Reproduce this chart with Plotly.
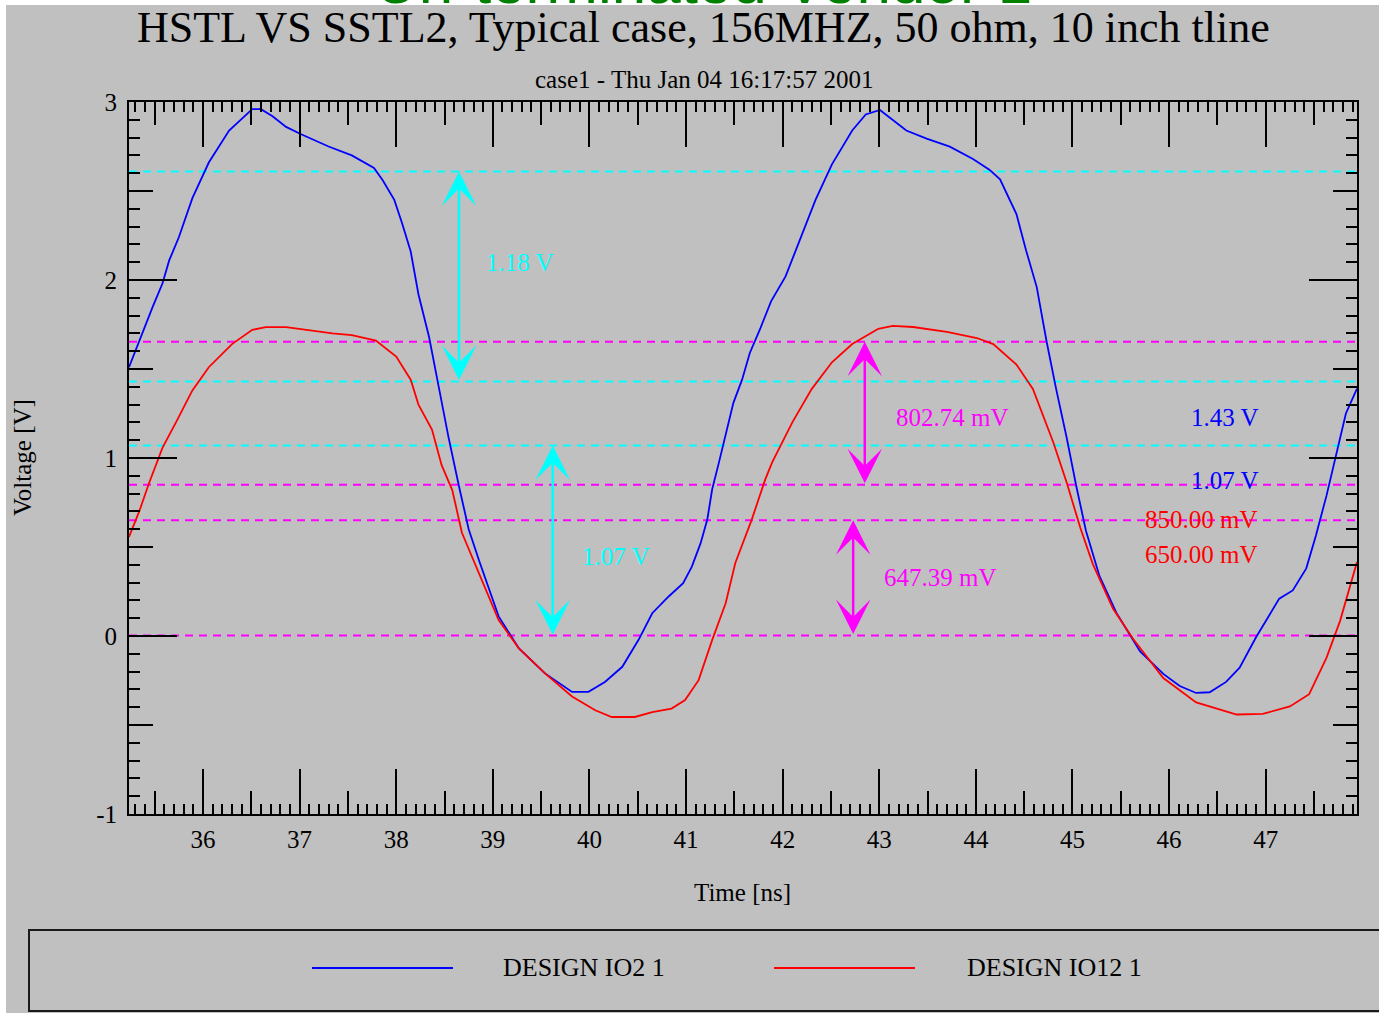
import plotly.graph_objects as go

# ---------------- data ----------------
blue_t = [35.234, 35.34, 35.48, 35.58, 35.65, 35.75, 35.89, 36.06, 36.27, 36.51, 36.60, 36.72,
          36.86, 37.01, 37.30, 37.54, 37.77, 37.86, 37.98, 38.06, 38.15, 38.23, 38.34, 38.44,
          38.54, 38.65, 38.75, 38.86, 39.06, 39.27, 39.54, 39.82, 39.99, 40.16, 40.34, 40.51,
          40.65, 40.82, 40.97, 41.06, 41.15, 41.22, 41.27, 41.34, 41.41, 41.49, 41.58, 41.66,
          41.77, 41.88, 42.03, 42.20, 42.34, 42.51, 42.72, 42.86, 43.007, 43.28, 43.49, 43.73,
          43.97, 44.14, 44.25, 44.42, 44.52, 44.63, 44.73, 44.83, 44.94, 45.04, 45.14, 45.28,
          45.455, 45.70, 45.94, 46.11, 46.28, 46.42, 46.59, 46.73, 46.90, 47.14, 47.28, 47.42,
          47.52, 47.63, 47.73, 47.83, 47.945]
blue_v = [1.51, 1.66, 1.85, 1.98, 2.11, 2.24, 2.46, 2.66, 2.84, 2.96, 2.96, 2.92,
          2.86, 2.82, 2.75, 2.70, 2.63, 2.56, 2.45, 2.32, 2.16, 1.92, 1.68, 1.40,
          1.12, 0.84, 0.60, 0.42, 0.11, -0.07, -0.21, -0.314, -0.314, -0.258, -0.173, -0.02,
          0.128, 0.222, 0.297, 0.39, 0.52, 0.654, 0.823, 0.974, 1.124, 1.31, 1.44, 1.59,
          1.73, 1.88, 2.02, 2.25, 2.45, 2.65, 2.84, 2.93, 2.955, 2.84, 2.794, 2.749,
          2.68, 2.62, 2.566, 2.37, 2.166, 1.96, 1.66, 1.39, 1.114, 0.84, 0.59, 0.336,
          0.13, -0.087, -0.213, -0.281, -0.32, -0.316, -0.258, -0.178, -0.007, 0.21, 0.256, 0.38,
          0.565, 0.79, 1.02, 1.25, 1.39]

red_t = [35.234, 35.34, 35.44, 35.58, 35.72, 35.89, 36.06, 36.30, 36.51, 36.65, 36.86, 37.06,
         37.34, 37.54, 37.79, 38.00, 38.15, 38.23, 38.37, 38.47, 38.58, 38.68, 38.86, 39.06,
         39.27, 39.54, 39.82, 40.06, 40.23, 40.47, 40.65, 40.85, 40.99, 41.13, 41.27, 41.41,
         41.51, 41.68, 41.82, 41.89, 42.10, 42.30, 42.51, 42.72, 42.99, 43.14, 43.35, 43.70,
         44.01, 44.18, 44.42, 44.59, 44.80, 44.94, 45.08, 45.21, 45.42, 45.63, 45.94, 46.28,
         46.70, 46.97, 47.25, 47.45, 47.63, 47.77, 47.945]
red_v = [0.556, 0.70, 0.857, 1.057, 1.20, 1.38, 1.51, 1.64, 1.72, 1.735, 1.735, 1.72,
         1.70, 1.69, 1.66, 1.57, 1.44, 1.30, 1.16, 0.96, 0.82, 0.58, 0.35, 0.09,
         -0.07, -0.21, -0.34, -0.417, -0.455, -0.455, -0.427, -0.408, -0.36, -0.248, -0.023, 0.184,
         0.41, 0.654, 0.88, 0.974, 1.20, 1.387, 1.538, 1.64, 1.726, 1.742, 1.736, 1.708,
         1.674, 1.64, 1.525, 1.388, 1.09, 0.862, 0.61, 0.405, 0.153, -0.018, -0.236, -0.373,
         -0.441, -0.437, -0.396, -0.327, -0.121, 0.085, 0.416]

series_names = ["DESIGN IO2 1", "DESIGN IO12 1"]

blue_levels = [1.43, 1.07]          # V
blue_swings = [1.18, 1.07]          # V
red_levels = [0.85, 0.65]           # V
red_swings = [0.80274, 0.64739]     # V

x_ticks = list(range(36, 48))
x_half_ticks = [v + 0.5 for v in range(35, 48)]
y_ticks = [-1, 0, 1, 2, 3]
y_half_ticks = [-0.5, 0.5, 1.5, 2.5]
x_range = [35.234, 47.945]
y_range = [-1, 3]

title_text = "HSTL VS SSTL2, Typical case, 156MHZ, 50 ohm, 10 inch tline"
subtitle_text = "case1 - Thu Jan 04 16:17:57 2001"
top_text = "Un-terminated Vendor 1"

# ---------------- styling ----------------
W, H = 1379, 1013
L, R, T, B = 129, 1357, 102, 814
BG = "#C0C0C0"
BLUE, RED, CYAN, MAG = "#0000FF", "#FF0000", "#00FFFF", "#FF00FF"
SERIF = "Liberation Serif, Times New Roman, serif"


def px(x):
    return (x - L) / (R - L)


def py(y):
    return (B - y) / (B - T)


fig = go.Figure()
fig.add_trace(go.Scatter(x=blue_t, y=blue_v, mode="lines", name=series_names[0],
                         line=dict(color=BLUE, width=1.8), showlegend=False))
fig.add_trace(go.Scatter(x=red_t, y=red_v, mode="lines", name=series_names[1],
                         line=dict(color=RED, width=1.8), showlegend=False))
# helper traces so the secondary tick axes are drawn
fig.add_trace(go.Scatter(x=[], y=[], xaxis="x2", yaxis="y", showlegend=False, hoverinfo="skip"))
fig.add_trace(go.Scatter(x=[], y=[], xaxis="x", yaxis="y2", showlegend=False, hoverinfo="skip"))

shapes = []
# white page edges
shapes.append(dict(type="rect", xref="paper", yref="paper", x0=px(0), x1=px(W), y0=py(5), y1=py(0),
                   fillcolor="white", line=dict(width=0), layer="below"))
shapes.append(dict(type="rect", xref="paper", yref="paper", x0=px(0), x1=px(6), y0=py(H), y1=py(0),
                   fillcolor="white", line=dict(width=0), layer="below"))

# dashed reference levels
cyan_lines = [blue_levels[0] + blue_swings[0], blue_levels[0], blue_levels[1], blue_levels[1] - blue_swings[1]]
mag_lines = [red_levels[0] + red_swings[0], red_levels[0], red_levels[1], red_levels[1] - red_swings[1]]
for lv in cyan_lines[:3]:  # the lowest cyan level is hidden under the magenta zero line
    shapes.append(dict(type="line", xref="paper", yref="y", x0=0, x1=1, y0=lv, y1=lv,
                       line=dict(color=CYAN, width=2, dash="8px,6px"), layer="below"))
for lv in mag_lines:
    shapes.append(dict(type="line", xref="paper", yref="y", x0=0, x1=1, y0=lv, y1=lv,
                       line=dict(color=MAG, width=2, dash="8px,6px"), layer="below"))

# legend box
shapes.append(dict(type="rect", xref="paper", yref="paper", x0=px(29), x1=px(W + 10), y0=py(1011), y1=py(930),
                   line=dict(color="#1a1a1a", width=2), fillcolor=BG))
shapes.append(dict(type="line", xref="paper", yref="paper", x0=px(312), x1=px(453), y0=py(968), y1=py(968),
                   line=dict(color=BLUE, width=2)))
shapes.append(dict(type="line", xref="paper", yref="paper", x0=px(774), x1=px(915), y0=py(968), y1=py(968),
                   line=dict(color=RED, width=2)))

annotations = []


def arrow(t, v_top, v_bot, color):
    annotations.append(dict(x=t, y=v_top, ax=t, ay=v_bot, xref="x", yref="y", axref="x", ayref="y",
                            text="", showarrow=True, arrowside="end+start",
                            arrowhead=3, startarrowhead=3, arrowsize=2.3, startarrowsize=2.3,
                            arrowwidth=2.5, arrowcolor=color, standoff=0, startstandoff=0))


def label(t, v, text, color):
    annotations.append(dict(x=t, y=v, xref="x", yref="y", text=text, showarrow=False,
                            xanchor="center", yanchor="middle",
                            font=dict(family=SERIF, size=25, color=color)))


def page_text(x, y, text, size, color="black", xanchor="center", yanchor="middle", family=SERIF, angle=0):
    annotations.append(dict(x=px(x), y=py(y), xref="paper", yref="paper", text=text, showarrow=False,
                            xanchor=xanchor, yanchor=yanchor, textangle=angle,
                            font=dict(family=family, size=size, color=color)))


arrow(38.65, cyan_lines[0], cyan_lines[1], CYAN)
label(39.28, 2.10, f"{blue_swings[0]:.2f} V", CYAN)
arrow(39.62, cyan_lines[2], cyan_lines[3], CYAN)
label(40.27, 0.444, f"{blue_swings[1]:.2f} V", CYAN)
arrow(42.85, mag_lines[0], mag_lines[1], MAG)
label(43.76, 1.225, f"{red_swings[0] * 1000:.2f} mV", MAG)
arrow(42.73, mag_lines[2], mag_lines[3], MAG)
label(43.63, 0.326, f"{red_swings[1] * 1000:.2f} mV", MAG)

label(46.58, 1.23, f"{blue_levels[0]:.2f} V", BLUE)
label(46.58, 0.876, f"{blue_levels[1]:.2f} V", BLUE)
label(46.34, 0.657, f"{red_levels[0] * 1000:.2f} mV", RED)
label(46.34, 0.46, f"{red_levels[1] * 1000:.2f} mV", RED)

# titles and axis titles
page_text(703, 28, title_text, 44)
page_text(704, 79, subtitle_text, 25)
page_text(703, 18, top_text, 62, color="#008000", yanchor="bottom",
          family="Liberation Sans, Arial, sans-serif")
page_text(742, 892, "Time [ns]", 25)
page_text(22, 458, "Voltage [V]", 25, angle=-90)
# legend texts
page_text(501, 968, series_names[0], 26, xanchor="left")
page_text(965, 968, series_names[1], 26, xanchor="left")

tickfont = dict(family=SERIF, size=25, color="black")

fig.update_layout(
    width=W, height=H,
    margin=dict(l=L, r=W - R, t=T, b=H - B, pad=0),
    paper_bgcolor=BG, plot_bgcolor=BG,
    showlegend=False,
    shapes=shapes, annotations=annotations,
    xaxis=dict(range=x_range, tickmode="array", tickvals=x_ticks, ticktext=[str(v) for v in x_ticks],
               ticks="inside", ticklen=45, tickwidth=2, tickcolor="black",
               showline=True, linecolor="black", linewidth=2, mirror="ticks",
               showgrid=False, zeroline=False, tickfont=tickfont, ticklabelstandoff=2,
               minor=dict(dtick=0.1, tick0=0, ticks="inside", ticklen=10, tickwidth=1.5,
                          tickcolor="black", showgrid=False)),
    xaxis2=dict(range=x_range, overlaying="x", anchor="y", side="bottom", tickmode="array",
                tickvals=x_half_ticks, ticks="inside", ticklen=23, tickwidth=2, tickcolor="black",
                showticklabels=False, showline=False, mirror="ticks", showgrid=False, zeroline=False),
    yaxis=dict(range=y_range, tickmode="array", tickvals=y_ticks, ticktext=[str(v) for v in y_ticks],
               ticks="inside", ticklen=48, tickwidth=2, tickcolor="black",
               showline=True, linecolor="black", linewidth=2, mirror="ticks",
               showgrid=False, zeroline=False, tickfont=tickfont, ticklabelstandoff=5,
               minor=dict(dtick=0.1, tick0=0, ticks="inside", ticklen=11, tickwidth=1.5,
                          tickcolor="black", showgrid=False)),
    yaxis2=dict(range=y_range, overlaying="y", anchor="x", side="left", tickmode="array",
                tickvals=y_half_ticks, ticks="inside", ticklen=24, tickwidth=2, tickcolor="black",
                showticklabels=False, showline=False, mirror="ticks", showgrid=False, zeroline=False),
)

fig.write_html("out.html")
